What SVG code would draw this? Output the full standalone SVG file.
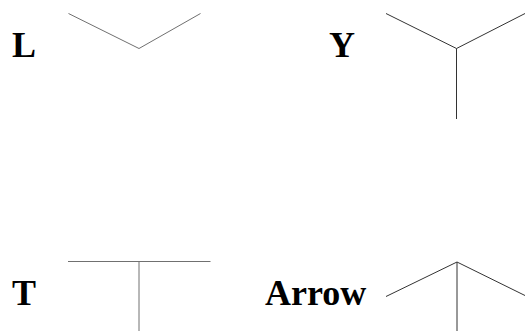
<svg xmlns="http://www.w3.org/2000/svg" width="525" height="331" viewBox="0 0 525 331">
<style>
.lbl{font-family:"Liberation Serif","Times New Roman",serif;font-weight:bold;font-size:36px;fill:#000}
.light{stroke:#707070;stroke-width:1;fill:none}
.dark{stroke:#333;stroke-width:1;fill:none}
</style>
<rect width="525" height="331" fill="#fff"/>
<g id="node-L">
<text class="lbl" x="12" y="57">L</text>
<polyline class="light" points="68.5,13.5 139,48.5 200.5,13.5"/>
</g>
<g id="node-Y">
<text class="lbl" x="329" y="57">Y</text>
<polyline class="dark" points="386,13.5 456.5,48.5 526,13"/>
<line class="dark" x1="456.5" y1="48.5" x2="456.5" y2="119"/>
</g>
<g id="node-T">
<text class="lbl" x="12" y="305">T</text>
<line class="light" x1="68" y1="261.5" x2="210.5" y2="261.5"/>
<line class="light" x1="139" y1="261.5" x2="139" y2="331"/>
</g>
<g id="node-Arrow">
<text class="lbl" x="265" y="305">Arrow</text>
<polyline class="dark" points="386,296.5 457,262 527,296.5"/>
<line class="dark" x1="457" y1="262" x2="457" y2="331"/>
</g>
<g id="connectors"></g>
</svg>
